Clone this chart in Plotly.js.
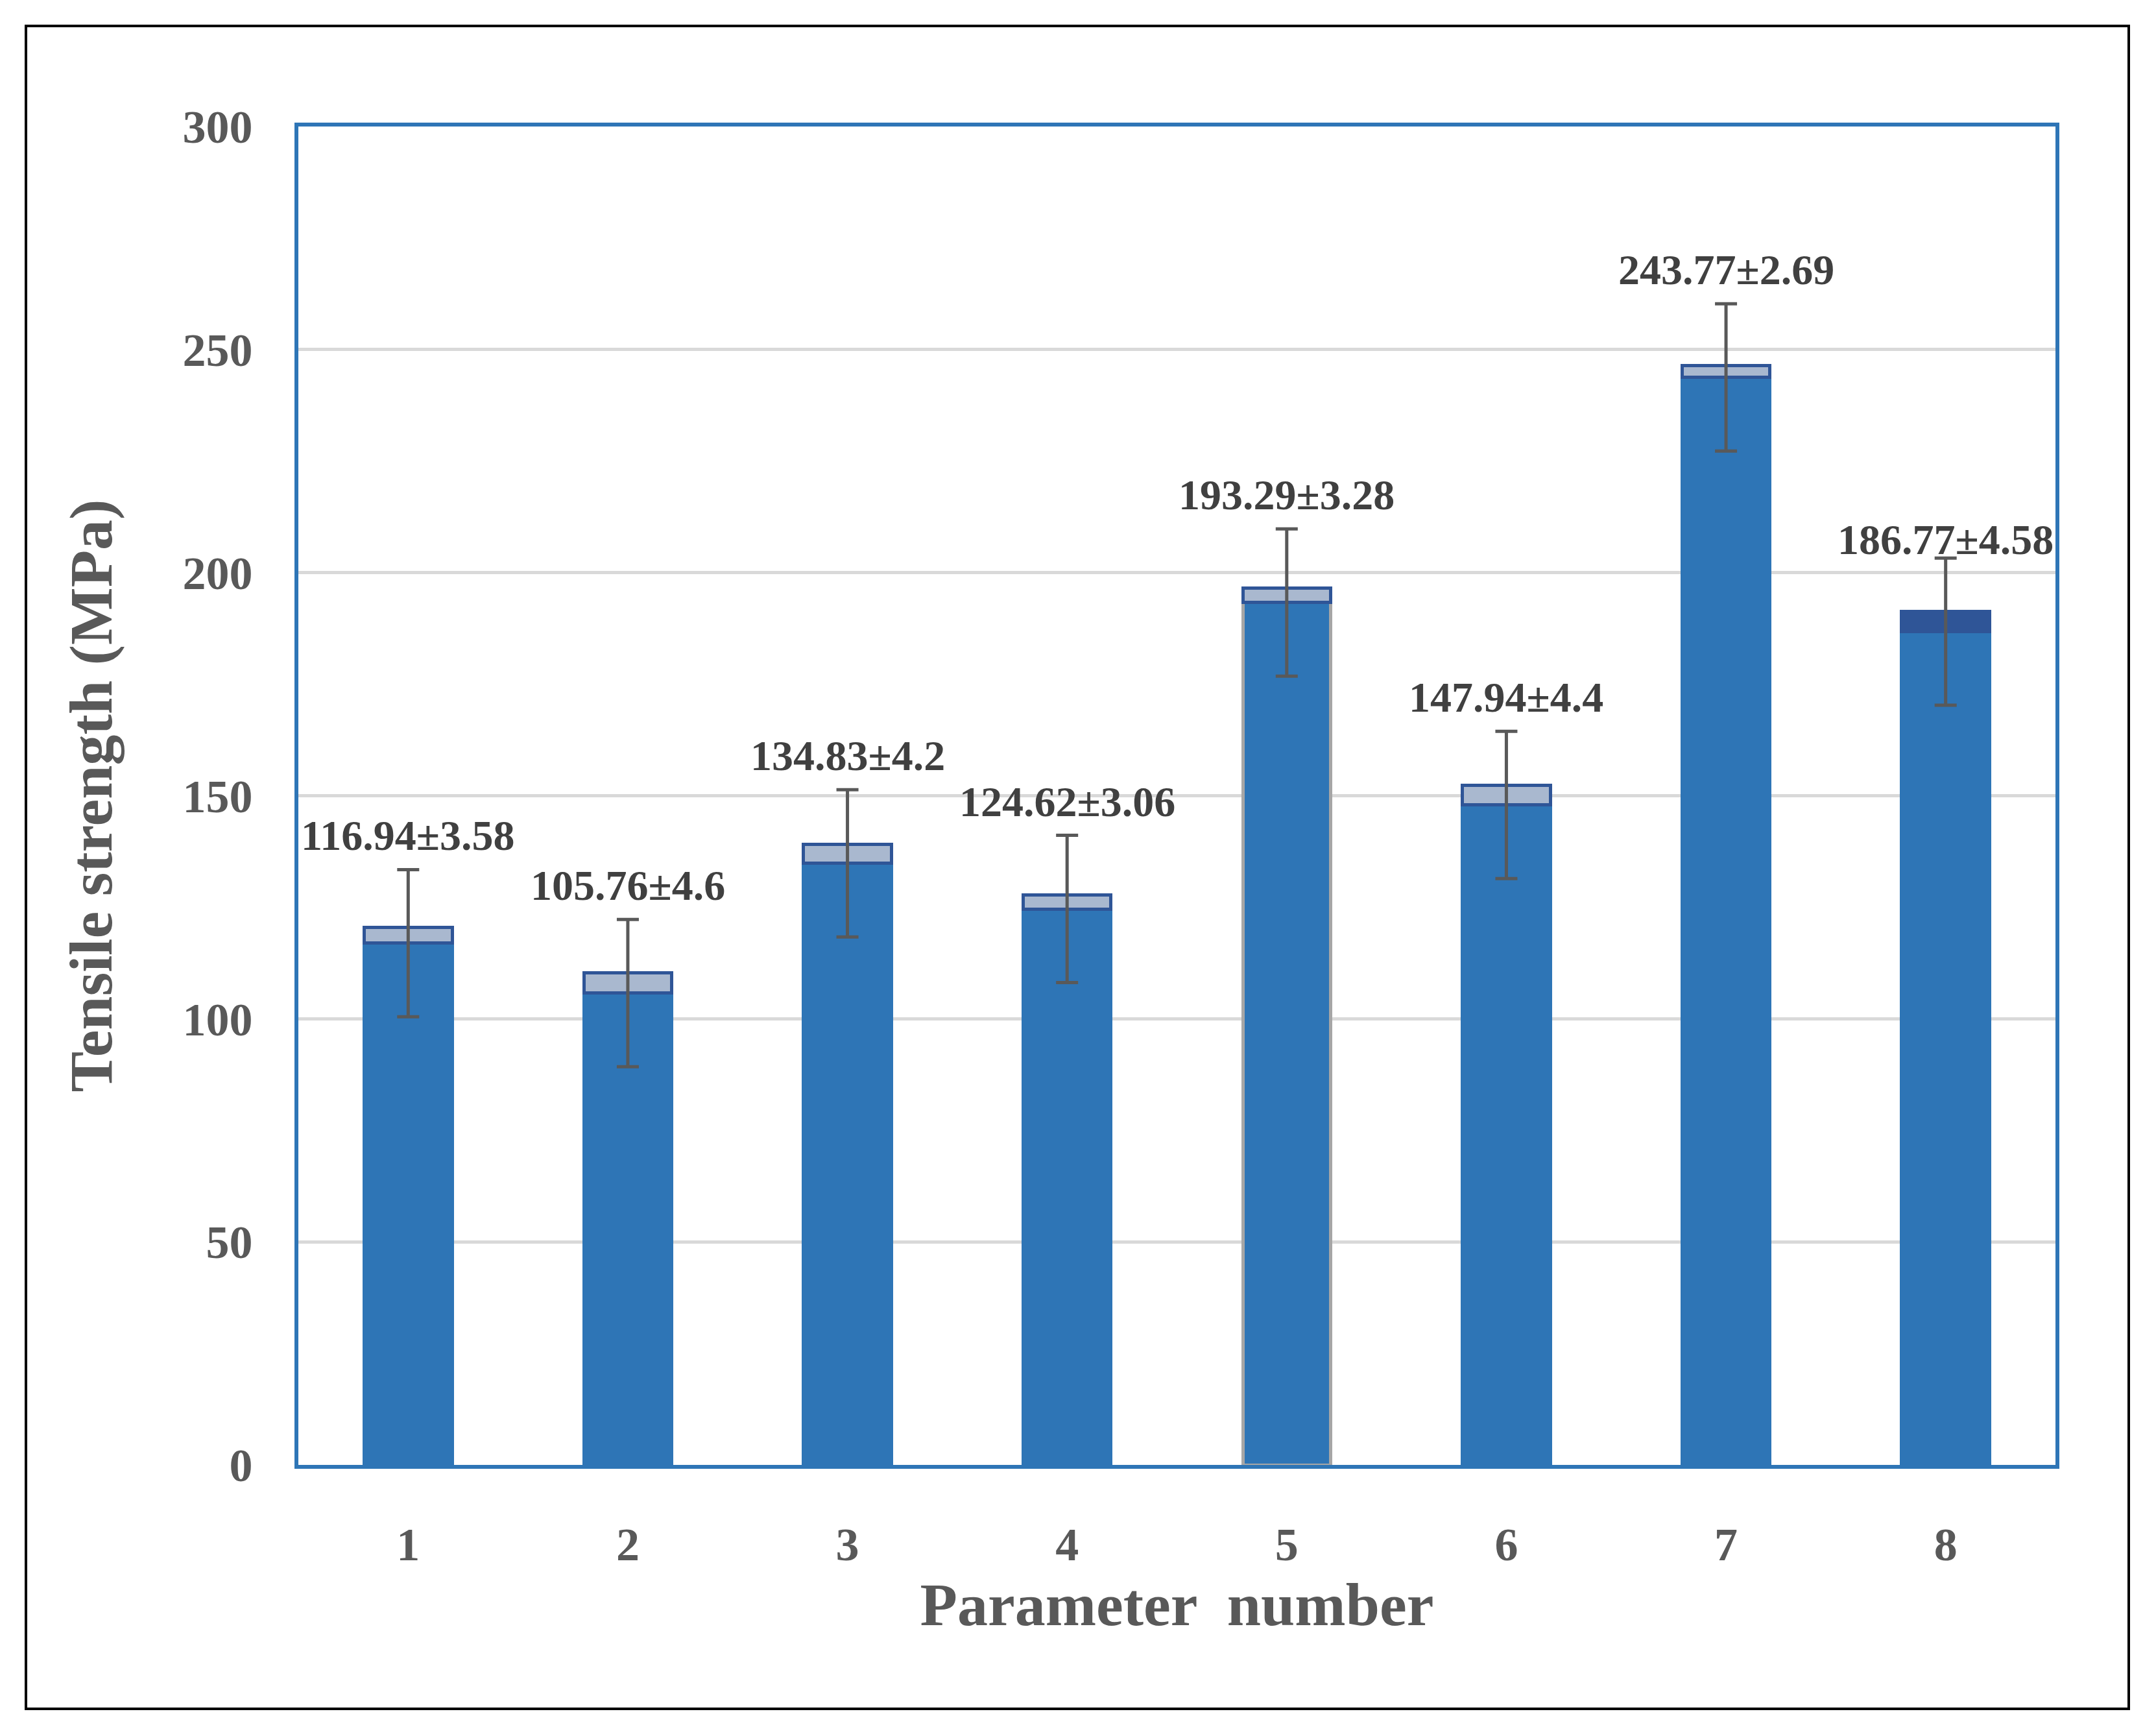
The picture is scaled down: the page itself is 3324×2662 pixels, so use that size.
<!DOCTYPE html>
<html><head><meta charset="utf-8">
<script src="https://cdn.plot.ly/plotly-3.0.1.min.js"></script>
<style>body{margin:0;background:#fff}#frame{position:absolute;left:38px;top:38px;width:3238px;height:2590px;border:4px solid #000;pointer-events:none}</style>
</head><body>
<div id="chart" style="width:3324px;height:2662px"></div>
<div id="frame"></div>
<script>
const categories = ['1','2','3','4','5','6','7','8'];
const means = [116.94,105.76,134.83,124.62,193.29,147.94,243.77,186.77];
const sds = [3.58,4.6,4.2,3.06,3.28,4.4,2.69,4.58];
const errHalf = [16.5,16.5,16.5,16.5,16.5,16.5,16.5,16.5];
const labels = means.map((m,i)=>m.toFixed(2)+'±'+sds[i]);

const font = 'Liberation Serif';
const base = {type:'bar',x:categories,y:means,width:0.4,
  marker:{color:'#2e75b6',line:{color:means.map((m,i)=>i===4?'#a6a6a6':'#2e75b6'),width:5}},hoverinfo:'none'};
const cap = {type:'bar',x:categories,y:sds,width:0.4,
  marker:{color:means.map((m,i)=>i===7?'#2f5597':'#a9b8cf'),line:{color:'#2f5597',width:5}},hoverinfo:'none'};
const err = {type:'scatter',mode:'markers',x:categories,y:means,marker:{opacity:0,size:1},
  error_y:{type:'data',array:errHalf,visible:true,color:'#595959',thickness:5,width:17},hoverinfo:'none'};

const annotations = categories.map((c,i)=>({x:i,y:means[i]+errHalf[i],text:labels[i],showarrow:false,
  yanchor:'bottom',yshift:i===7?-10:14,font:{family:font,size:66,color:'#404040',weight:'bold'}}));

Plotly.newPlot('chart',[base,cap,err],{
  width:3324,height:2662,barmode:'stack',showlegend:false,
  paper_bgcolor:'#fff',plot_bgcolor:'#fff',
  margin:{l:460,r:155,t:195,b:404},
  xaxis:{type:'category',range:[-0.5,7.5],tickfont:{family:font,size:72,color:'#595959',weight:'bold'},ticks:'',ticklen:0,
    ticklabelstandoff:55,
    showline:true,mirror:true,linecolor:'#2e75b6',linewidth:6,
    title:{text:'Parameter  number',font:{family:font,size:94,color:'#595959',weight:'bold'},standoff:20}},
  yaxis:{range:[0,300],dtick:50,tickfont:{family:font,size:72,color:'#595959',weight:'bold'},ticks:'',
    ticklabelstandoff:50,
    showline:true,mirror:true,linecolor:'#2e75b6',linewidth:6,gridcolor:'#d9d9d9',gridwidth:5,zeroline:false,
    title:{text:'Tensile strength (MPa)',font:{family:font,size:94,color:'#595959',weight:'bold'},standoff:80}},
  annotations:annotations
},{staticPlot:true});
</script></body></html>
